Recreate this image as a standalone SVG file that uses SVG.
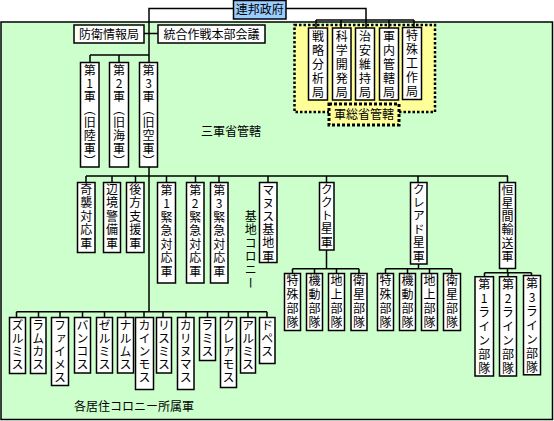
<svg xmlns="http://www.w3.org/2000/svg" width="554" height="421" viewBox="0 0 554 421">
<style>
.b{fill:#fff;stroke:#000;stroke-width:1.5}
.t{font-family:"Noto Sans CJK JP","Noto Sans CJK SC",sans-serif;font-size:12px;fill:#000}
.h{text-anchor:middle}
.v{writing-mode:vertical-rl;text-orientation:upright}
.c{fill:none;stroke:#000;stroke-width:1.5}
</style>
<rect x="0" y="0" width="554" height="421" fill="#fff"/>
<rect id="region-main" x="1" y="22" width="551.5" height="397.5" fill="#ccffcc" stroke="#000" stroke-width="1.5"/>
<g id="region-yellow">
<rect x="294.5" y="25" width="140.5" height="87" fill="#ffff99" stroke="#000" stroke-width="2.5" stroke-dasharray="2.5 2"/>
<rect x="329" y="104" width="70" height="21" fill="#ffff99" stroke="#000" stroke-width="3" stroke-dasharray="3 2"/>
<text class="t h" x="364" y="118.5">軍総省管轄</text>
</g>
<text class="t h" x="231" y="135.5">三軍省管轄</text>
<text class="t h" x="134" y="411">各居住コロニー所属軍</text>
<text class="t v" x="250.7" y="210.5" style="letter-spacing:1.3px">基地コロニー</text>

<g id="connectors">
<path class="c" d="M233,8.5H149V62M144,33.5H158M90,55H149M90,55V62M119,55V62"/>
<path class="c" d="M286,8.5H366V28M316,20H414M316,20V28M341,20V28M389,20V28M414,20V27.5"/>
<path class="c" d="M149,167V311.7M86,176H508M86,176V182M112,176V182M135.5,176V182M166.5,176V182M195.5,176V182M219,176V182M268,176V182M326.5,176V182M418,176V182M507.5,176V182"/>
<path class="c" d="M326.5,250V268.7M292.5,268.7H359M292.5,268.7V273.5M314.5,268.7V273.5M336.5,268.7V273.5M359,268.7V273.5"/>
<path class="c" d="M418.5,264V268.7M385.5,268.7H452M385.5,268.7V273.5M407.5,268.7V273.5M429.5,268.7V273.5M452,268.7V273.5"/>
<path class="c" d="M507.5,268.7V272.7M484.5,272.7H531.5M484.5,272.7V276.7M508,272.7V276.7M531.5,272.7V275.5"/>
<path class="c" d="M16.5,311.7H267M16.5,311.7V317.5M38.5,311.7V317.5M60,311.7V317.5M82.5,311.7V317.5M104.5,311.7V317.5M125.5,311.7V317.5M144,311.7V317.5M163,311.7V317.5M186,311.7V317.5M207.5,311.7V317.5M228.5,311.7V317.5M248,311.7V317.5M267,311.7V317.5"/>
</g>

<g id="n-renpo"><rect x="233.5" y="0.5" width="52.5" height="18.5" fill="#99ccff" stroke="#000" stroke-width="1.5"/><text class="t h" x="259.7" y="14">連邦政府</text></g>
<g id="n-boei"><rect class="b" x="74" y="25" width="70" height="18"/><text class="t h" x="109" y="38.5">防衛情報局</text></g>
<g id="n-togo"><rect class="b" x="158" y="25" width="107" height="18"/><text class="t h" x="211.5" y="38.5">統合作戦本部会議</text></g>

<g id="n-senryaku"><rect class="b" x="308.5" y="28" width="19" height="72"/><text class="t v" x="318" y="30" style="letter-spacing:2px">戦略分析局</text></g>
<g id="n-kagaku"><rect class="b" x="332.5" y="28" width="18.5" height="72"/><text class="t v" x="341.7" y="30" style="letter-spacing:2px">科学開発局</text></g>
<g id="n-chian"><rect class="b" x="355.5" y="28" width="19" height="72"/><text class="t v" x="365" y="30" style="letter-spacing:2px">治安維持局</text></g>
<g id="n-gunnai"><rect class="b" x="379.5" y="28" width="19" height="72"/><text class="t v" x="389" y="30" style="letter-spacing:2px">軍内管轄局</text></g>
<g id="n-tokushu"><rect class="b" x="402.5" y="27.5" width="19" height="72"/><text class="t v" x="412" y="29.5" style="letter-spacing:2px">特殊工作局</text></g>

<g id="n-army1"><rect class="b" x="80.5" y="62.5" width="18.5" height="104.5"/><text class="t v" x="89.7" y="64" style="letter-spacing:1px">第1軍（旧陸軍）</text></g>
<g id="n-army2"><rect class="b" x="109.5" y="62.5" width="19" height="104.5"/><text class="t v" x="119" y="64" style="letter-spacing:1px">第2軍（旧海軍）</text></g>
<g id="n-army3"><rect class="b" x="139.5" y="62.5" width="18" height="104.5"/><text class="t v" x="148.5" y="64" style="letter-spacing:1px">第3軍（旧空軍）</text></g>

<g id="n-kishu"><rect class="b" x="77.5" y="182.5" width="17.5" height="70"/><text class="t v" x="86.2" y="183" style="letter-spacing:1.5px">奇襲対応軍</text></g>
<g id="n-henkyo"><rect class="b" x="103.5" y="182.5" width="17" height="70"/><text class="t v" x="112" y="183" style="letter-spacing:1.5px">辺境警備軍</text></g>
<g id="n-koho"><rect class="b" x="126.5" y="182.5" width="17.5" height="70"/><text class="t v" x="135.2" y="183" style="letter-spacing:1.5px">後方支援軍</text></g>
<g id="n-kinkyu1"><rect class="b" x="157.5" y="182.5" width="18" height="100.5"/><text class="t v" x="166.5" y="184" style="letter-spacing:1.5px">第1緊急対応軍</text></g>
<g id="n-kinkyu2"><rect class="b" x="186.5" y="182.5" width="17.5" height="100.5"/><text class="t v" x="195.2" y="184" style="letter-spacing:1.5px">第2緊急対応軍</text></g>
<g id="n-kinkyu3"><rect class="b" x="210.5" y="182.5" width="17.5" height="100.5"/><text class="t v" x="219.2" y="184" style="letter-spacing:1.5px">第3緊急対応軍</text></g>
<g id="n-manusu"><rect class="b" x="259.5" y="182.5" width="17.5" height="80"/><text class="t v" x="268.2" y="184" style="letter-spacing:1.2px">マヌス基地軍</text></g>
<g id="n-kukuto"><rect class="b" x="319.5" y="182.5" width="14.5" height="67.5"/><text class="t v" x="326.7" y="183" style="letter-spacing:1.3px">ククト星軍</text></g>
<g id="n-kureado"><rect class="b" x="410.5" y="182.5" width="16.5" height="81.5"/><text class="t v" x="418.7" y="183" style="letter-spacing:1.4px">クレアド星軍</text></g>
<g id="n-kosei"><rect class="b" x="499.5" y="182.5" width="16" height="86"/><text class="t v" x="507.5" y="184" style="letter-spacing:1.3px">恒星間輸送軍</text></g>

<g id="n-ku-tokushu"><rect class="b" x="284.5" y="273.5" width="16" height="57"/><text class="t v" x="292.5" y="274" style="letter-spacing:2.3px">特殊部隊</text></g>
<g id="n-ku-kido"><rect class="b" x="306.5" y="273.5" width="16" height="57"/><text class="t v" x="314.5" y="274" style="letter-spacing:2.3px">機動部隊</text></g>
<g id="n-ku-chijo"><rect class="b" x="328.5" y="273.5" width="16" height="57"/><text class="t v" x="336.5" y="274" style="letter-spacing:2.3px">地上部隊</text></g>
<g id="n-ku-eisei"><rect class="b" x="351" y="273.5" width="16" height="57"/><text class="t v" x="359" y="274" style="letter-spacing:2.3px">衛星部隊</text></g>
<g id="n-kr-tokushu"><rect class="b" x="377.5" y="273.5" width="16" height="57"/><text class="t v" x="385.5" y="274" style="letter-spacing:2.3px">特殊部隊</text></g>
<g id="n-kr-kido"><rect class="b" x="399.5" y="273.5" width="16" height="57"/><text class="t v" x="407.5" y="274" style="letter-spacing:2.3px">機動部隊</text></g>
<g id="n-kr-chijo"><rect class="b" x="421.5" y="273.5" width="16" height="57"/><text class="t v" x="429.5" y="274" style="letter-spacing:2.3px">地上部隊</text></g>
<g id="n-kr-eisei"><rect class="b" x="443.5" y="273.5" width="17" height="57"/><text class="t v" x="452" y="274" style="letter-spacing:2.3px">衛星部隊</text></g>

<g id="n-line1"><rect class="b" x="475" y="276.7" width="18.5" height="99.3"/><text class="t v" x="484.2" y="278" style="letter-spacing:2px">第1ライン部隊</text></g>
<g id="n-line2"><rect class="b" x="499.5" y="276.7" width="17" height="99.3"/><text class="t v" x="508" y="278" style="letter-spacing:2px">第2ライン部隊</text></g>
<g id="n-line3"><rect class="b" x="523.5" y="275.5" width="17" height="99.3"/><text class="t v" x="532" y="277" style="letter-spacing:2px">第3ライン部隊</text></g>

<g id="n-zurumisu"><rect class="b" x="9.5" y="317.5" width="16" height="56"/><text class="t v" x="17.5" y="319" style="letter-spacing:1.2px">ズルミス</text></g>
<g id="n-ramukasu"><rect class="b" x="30.5" y="317.5" width="15.5" height="56"/><text class="t v" x="38.3" y="319" style="letter-spacing:1.2px">ラムカス</text></g>
<g id="n-faimesu"><rect class="b" x="51.5" y="317.5" width="17" height="68"/><text class="t v" x="60" y="319" style="letter-spacing:1.2px">ファイメス</text></g>
<g id="n-bankosu"><rect class="b" x="74.5" y="317.5" width="16" height="55.5"/><text class="t v" x="82.5" y="319" style="letter-spacing:1.2px">バンコス</text></g>
<g id="n-zerumisu"><rect class="b" x="96.5" y="317.5" width="16" height="55.5"/><text class="t v" x="104.5" y="319" style="letter-spacing:1.2px">ゼルミス</text></g>
<g id="n-narumusu"><rect class="b" x="117.5" y="317.5" width="16" height="55.5"/><text class="t v" x="125.5" y="319" style="letter-spacing:1.2px">ナルムス</text></g>
<g id="n-kainmosu"><rect class="b" x="135.5" y="317.5" width="18" height="72"/><text class="t v" x="144.5" y="319" style="letter-spacing:1.2px">カインモス</text></g>
<g id="n-risumisu"><rect class="b" x="156.5" y="317.5" width="15" height="55.5"/><text class="t v" x="164" y="319" style="letter-spacing:1.2px">リスミス</text></g>
<g id="n-karinumasu"><rect class="b" x="177.5" y="317.5" width="16.5" height="72"/><text class="t v" x="185.8" y="319" style="letter-spacing:1.2px">カリヌマス</text></g>
<g id="n-ramisu"><rect class="b" x="199.5" y="317.5" width="16" height="43"/><text class="t v" x="207.5" y="319" style="letter-spacing:1.2px">ラミス</text></g>
<g id="n-kureamosu"><rect class="b" x="220.5" y="317.5" width="16" height="70"/><text class="t v" x="228.5" y="319" style="letter-spacing:1.2px">クレアモス</text></g>
<g id="n-arumisu"><rect class="b" x="240.5" y="317.5" width="15" height="55.5"/><text class="t v" x="248" y="319" style="letter-spacing:1.2px">アルミス</text></g>
<g id="n-dopesu"><rect class="b" x="259.5" y="317.5" width="15.5" height="46"/><text class="t v" x="267.2" y="319" style="letter-spacing:1.2px">ドペス</text></g>
</svg>
